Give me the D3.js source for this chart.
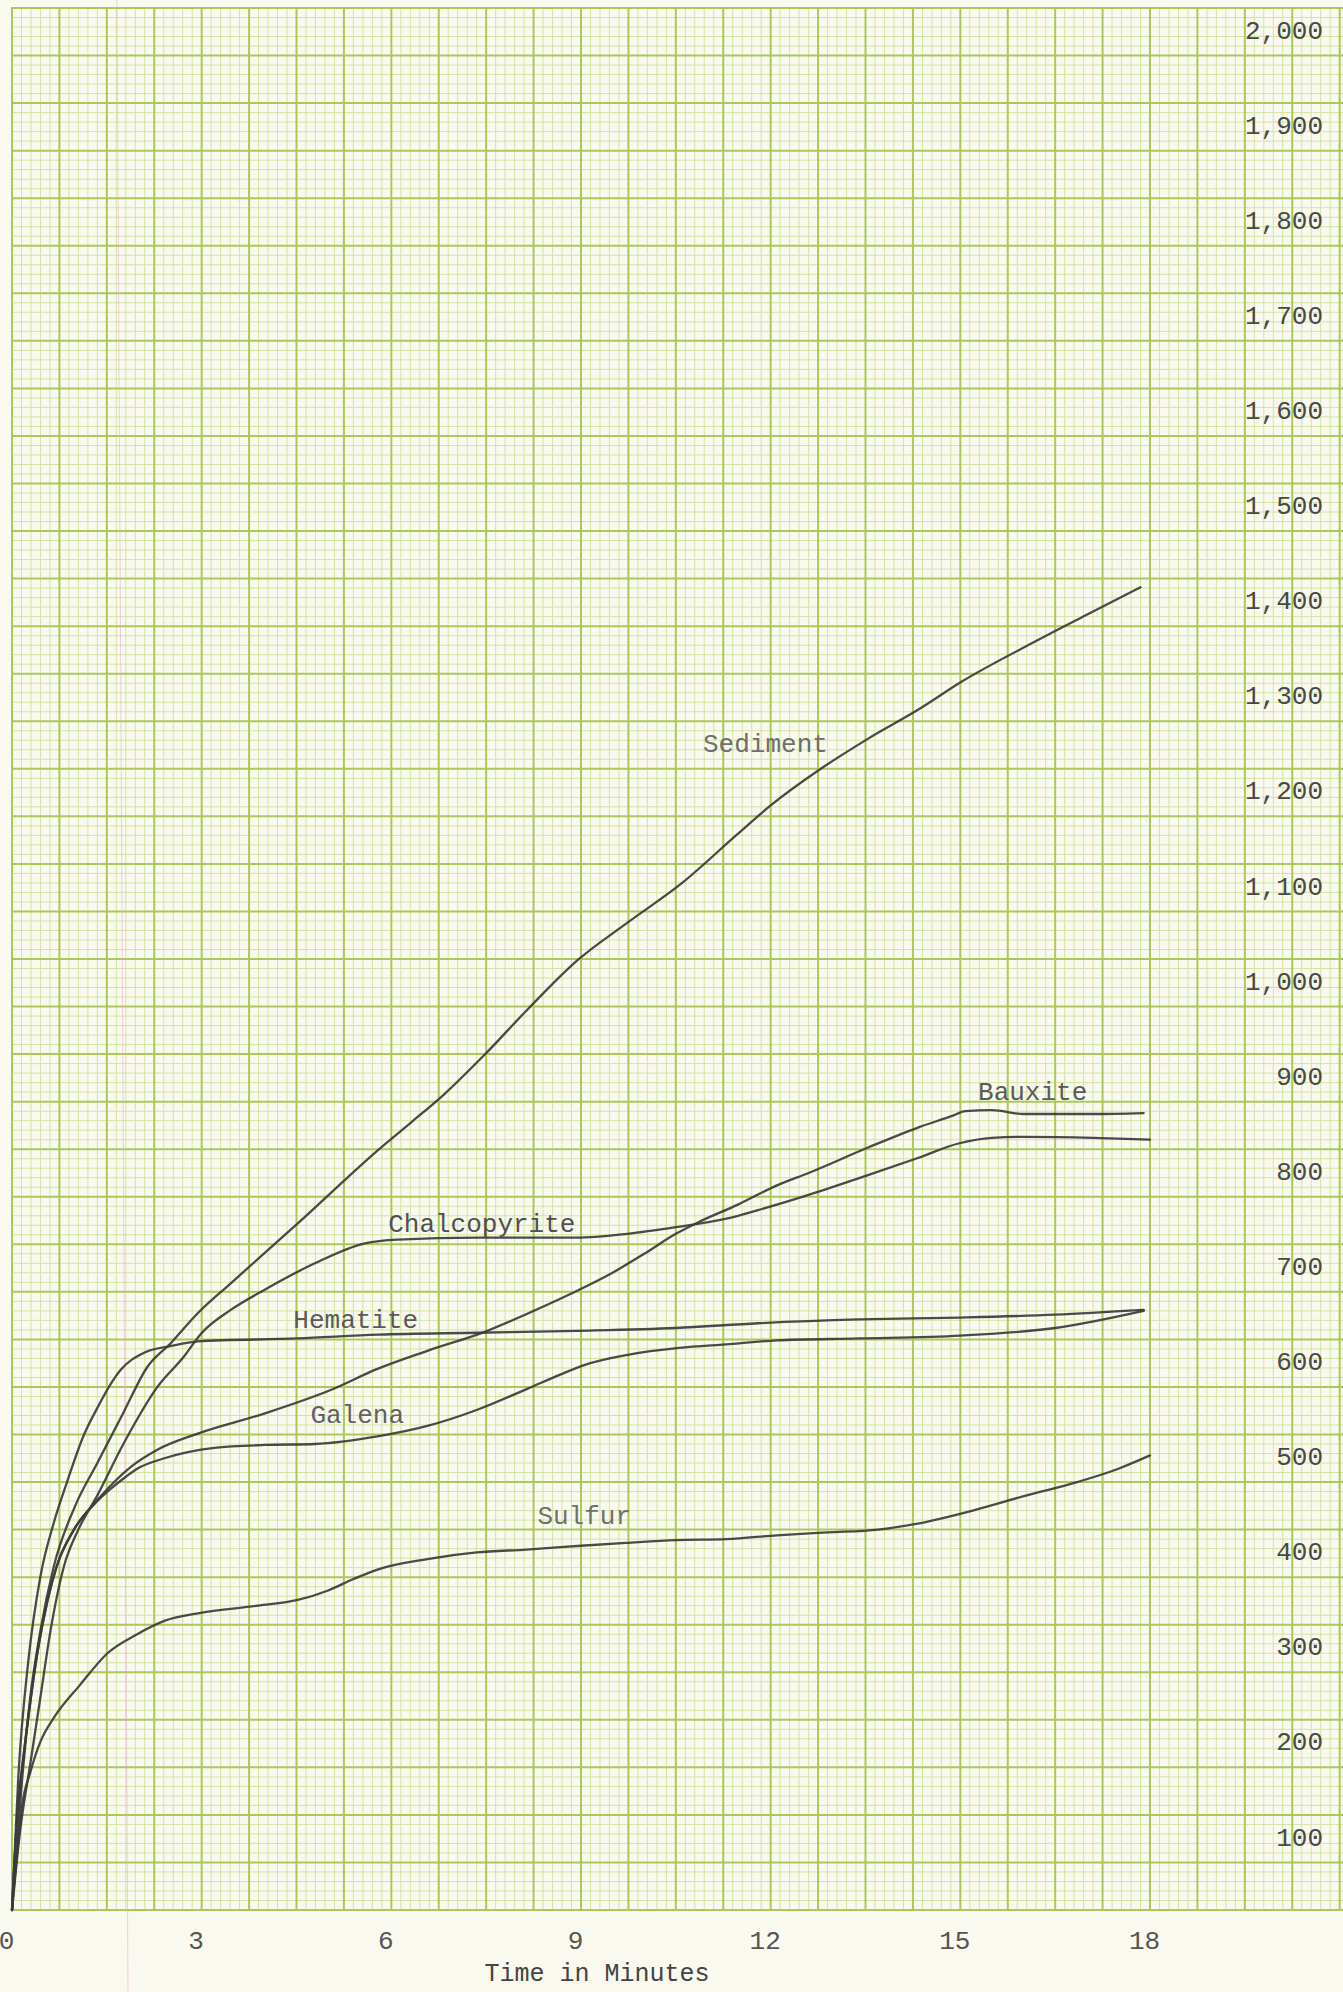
<!DOCTYPE html>
<html>
<head>
<meta charset="utf-8">
<script src="https://cdn.jsdelivr.net/npm/d3@7"></script>
<style>
  html, body { margin: 0; padding: 0; background: #f9f8ef; }
  svg { display: block; }
</style>
</head>
<body>
<svg id="chart" width="1343" height="1992"></svg>
<script>
// Settling curves: cumulative reading vs. time in minutes, one array per material.
const sediment = [[0,0],[0.16,137],[0.29,224],[0.45,294],[0.66,361],[1.0,425],[1.35,470],[1.77,524],[2.14,571],[2.51,596],[2.93,627],[3.46,659],[4.52,722],[5.84,802],[6.31,828],[6.84,858],[7.47,899],[8.17,948],[8.95,999],[9.73,1038],[10.6,1080],[11.47,1131],[11.99,1161],[12.77,1199],[13.55,1232],[14.33,1262],[15.03,1292],[16.16,1333],[17.03,1363],[17.85,1391]];
const bauxite = [[0,0],[0.08,96],[0.19,166],[0.29,219],[0.4,270],[0.56,325],[0.71,362],[0.98,400],[1.35,431],[1.88,466],[2.3,484],[2.94,501],[3.99,522],[5.05,547],[5.78,569],[6.57,588],[7.52,609],[8.15,627],[8.84,648],[9.47,669],[10.0,690],[10.5,711],[10.85,723],[11.49,742],[12.1,762],[12.6,775],[13.55,802],[14.34,823],[14.87,835],[15.08,840],[15.5,841],[16.0,837],[17.1,837],[17.9,838]];
const chalcopyrite = [[0,0],[0.13,84],[0.29,154],[0.45,224],[0.61,294],[0.82,361],[1.05,400],[1.35,436],[1.77,491],[2.3,550],[2.72,582],[2.99,606],[3.46,631],[3.99,652],[4.79,680],[5.58,701],[6.1,705],[7.36,707],[8.94,707],[9.73,711],[10.5,718],[11.3,727],[11.8,736],[12.6,752],[13.55,773],[14.34,791],[14.97,806],[15.5,812],[16.0,813],[17.1,812],[18.0,810]];
const hematite = [[0,0],[0.1,140],[0.26,263],[0.45,351],[0.66,407],[0.87,450],[1.14,500],[1.35,528],[1.56,553],[1.72,568],[2.09,586],[2.51,593],[2.94,598],[4.52,601],[5.79,605],[7.36,607],[8.94,609],[10.5,612],[11.8,617],[13.4,621],[15.0,623],[16.5,626],[17.9,631]];
const galena = [[0,0],[0.08,96],[0.19,166],[0.29,219],[0.4,270],[0.56,325],[0.71,362],[0.98,400],[1.35,430],[1.77,454],[1.98,464],[2.41,475],[3.2,486],[4.0,489],[4.79,490],[5.78,498],[6.57,509],[7.36,526],[8.15,548],[8.67,563],[9.05,573],[9.76,584],[10.55,591],[11.35,595],[12.1,599],[13.4,601],[15.0,604],[16.5,612],[17.9,630]];
const sulfur = [[0,0],[0.08,60],[0.16,110],[0.29,145],[0.45,177],[0.66,202],[1.08,237],[1.51,270],[1.98,290],[2.41,304],[2.94,312],[3.89,320],[4.52,326],[5.0,336],[5.4,348],[5.78,358],[6.57,369],[7.35,376],[8.14,379],[9.0,383],[9.71,386],[10.5,389],[11.3,390],[12.1,394],[12.9,397],[13.7,400],[14.3,406],[15.25,421],[16.05,436],[16.85,450],[17.5,464],[18.0,478]];

const seriesNames = ["Sediment", "Bauxite", "Chalcopyrite", "Hematite", "Galena", "Sulfur"];
const seriesData = [sediment, bauxite, chalcopyrite, hematite, galena, sulfur];

const xTicks = [0, 3, 6, 9, 12, 15, 18];
const yTicks = [100, 200, 300, 400, 500, 600, 700, 800, 900, 1000, 1100, 1200, 1300, 1400, 1500, 1600, 1700, 1800, 1900, 2000];
const xTitle = "Time in Minutes";

// ---- layout ----
const W = 1343, H = 1992;
const svg = d3.select("#chart");
const x = d3.scaleLinear().domain([0, 18]).range([12, 1150]);
const y = d3.scaleLinear().domain([0, 2000]).range([1910, 8]);

const typeFont = "'Liberation Mono', 'DejaVu Sans Mono', monospace";

// paper
svg.append("rect").attr("width", W).attr("height", H).attr("fill", "#faf9f0");

// graph-paper grid: fine rules every 0.15 min / 10 units, heavy every 5th
const grid = svg.append("g");
const minorT = 0.15;
const nV = Math.floor(x.invert(W) / minorT);
const vIdx = d3.range(0, nV + 1);
const hIdx = d3.range(0, 201);

grid.selectAll("line.vmin").data(vIdx.filter(i => i % 5 !== 0)).join("line")
  .attr("x1", i => x(i * minorT)).attr("x2", i => x(i * minorT))
  .attr("y1", y(2000)).attr("y2", y(0))
  .attr("stroke", "#d3e4a3").attr("stroke-width", 1);
grid.selectAll("line.hmin").data(hIdx.filter(i => i % 5 !== 0)).join("line")
  .attr("y1", i => y(i * 10)).attr("y2", i => y(i * 10))
  .attr("x1", x(0)).attr("x2", W)
  .attr("stroke", "#d3e4a3").attr("stroke-width", 1);
grid.selectAll("line.vmaj").data(vIdx.filter(i => i % 5 === 0)).join("line")
  .attr("x1", i => x(i * minorT)).attr("x2", i => x(i * minorT))
  .attr("y1", y(2000) - 1).attr("y2", y(0) + 1)
  .attr("stroke", "#aac95a").attr("stroke-width", 2);
grid.selectAll("line.hmaj").data(hIdx.filter(i => i % 5 === 0)).join("line")
  .attr("y1", i => y(i * 10)).attr("y2", i => y(i * 10))
  .attr("x1", x(0) - 1).attr("x2", W)
  .attr("stroke", "#aac95a").attr("stroke-width", 2);

// faint ruled margin line on the sheet
svg.append("line").attr("x1", 117).attr("y1", 0).attr("x2", 128).attr("y2", H)
  .attr("stroke", "#e7a9d6").attr("stroke-width", 1).attr("opacity", 0.55);

// y axis numbers, typed just under their rule on the right side
const yAxis = d3.axisLeft(y).tickValues(yTicks).tickFormat(d3.format(",")).tickSize(0).tickPadding(0);
const gy = svg.append("g").attr("transform", "translate(1323,21)").call(yAxis);
gy.select(".domain").remove();
gy.selectAll("text").attr("x", 0).attr("dy", "0.35em")
  .style("font-family", typeFont).style("font-size", "26px").attr("fill", "#484848");

// x axis numbers
const xAxis = d3.axisBottom(x).tickValues(xTicks).tickSize(0).tickPadding(0);
const gx = svg.append("g").attr("transform", "translate(-6,1940)").call(xAxis);
gx.select(".domain").remove();
gx.selectAll("text").attr("y", 0).attr("dy", "0.35em")
  .style("font-family", typeFont).style("font-size", "26px").attr("fill", "#555");

svg.append("text").attr("x", 597).attr("y", 1972).attr("dy", "0.35em")
  .attr("text-anchor", "middle").style("font-family", typeFont).style("font-size", "25px")
  .attr("fill", "#444").text(xTitle);

// pencil curves
const line = d3.line().x(d => x(d[0])).y(d => y(d[1])).curve(d3.curveMonotoneX);
svg.append("g").selectAll("path").data(seriesData).join("path")
  .attr("d", line).attr("fill", "none")
  .attr("stroke", "#3b3b3b").attr("stroke-width", 2.3)
  .attr("stroke-linecap", "round").attr("stroke-linejoin", "round").attr("opacity", 0.92);

// curve names, anchored in data units (left edge, vertical centre)
const nameAnchors = [[10.93, 1227], [15.28, 861], [5.95, 723], [4.45, 622], [4.72, 522], [8.31, 415]];
const nameColors = ["#6e6e6e", "#5a5a5a", "#505050", "#5a5a5a", "#626262", "#707070"];
svg.append("g").selectAll("text").data(seriesNames).join("text")
  .attr("x", (d, i) => x(nameAnchors[i][0]))
  .attr("y", (d, i) => y(nameAnchors[i][1]))
  .attr("dy", "0.35em")
  .style("font-family", typeFont).style("font-size", "26px")
  .attr("fill", (d, i) => nameColors[i])
  .text(d => d);
</script>
</body>
</html>
